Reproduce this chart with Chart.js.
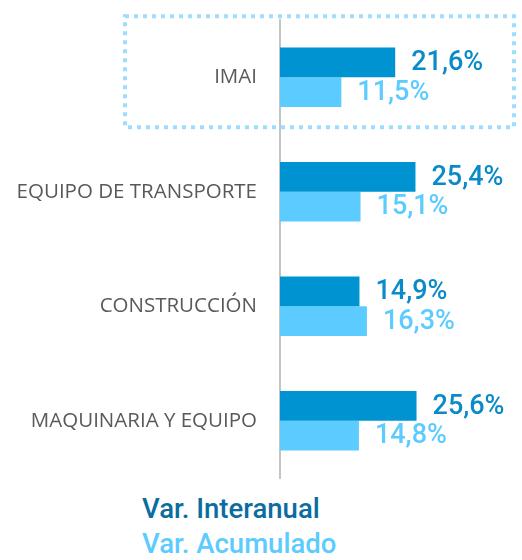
<!DOCTYPE html>
<html>
<head>
<meta charset="utf-8">
<script src="https://cdn.jsdelivr.net/npm/chart.js@4"></script>
<style>
  html, body { margin: 0; padding: 0; background: #ffffff; }
  #wrap { position: relative; width: 522px; height: 560px; }
  #c { position: absolute; left: 0; top: 0; }
  .leg { position: absolute; left: 142px; font-family: Roboto, "Liberation Sans", Arial, sans-serif; font-weight: 500; font-size: 27.5px; line-height: 30px; white-space: nowrap; }
</style>
</head>
<body>
<div id="wrap">
  <canvas id="c" width="522" height="490"></canvas>
  <div class="leg" id="leg1" style="top:494px;color:#0a6c9f;">Var. Interanual</div>
  <div class="leg" id="leg2" style="top:529px;color:#5ccbff;">Var. Acumulado</div>
</div>
<script>
const categories = ["IMAI", "EQUIPO DE TRANSPORTE", "CONSTRUCCIÓN", "MAQUINARIA Y EQUIPO"];
const interanual = [21.6, 25.4, 14.9, 25.6];
const acumulado = [11.5, 15.1, 16.3, 14.8];
const seriesNames = ["Var. Interanual", "Var. Acumulado"];

const darkBar = "#0093d1";
const lightBar = "#5ccbff";
const darkLabel = "#0a8ac9";
const lightLabel = "#5ccbff";

function fmt(v) { return v.toFixed(1).replace(".", ",") + "%"; }

const valueLabels = {
  id: "valueLabels",
  afterDatasetsDraw(chart) {
    const ctx = chart.ctx;
    ctx.save();
    ctx.font = '500 27px Roboto, "Liberation Sans", Arial, sans-serif';
    ctx.textBaseline = "middle";
    ctx.textAlign = "left";
    chart.data.datasets.forEach((ds, di) => {
      const meta = chart.getDatasetMeta(di);
      meta.data.forEach((bar, i) => {
        ctx.fillStyle = di === 0 ? darkLabel : lightLabel;
        ctx.fillText(fmt(ds.data[i]), bar.x + 16, bar.y + 1);
      });
    });
    ctx.restore();
  }
};

const highlightBox = {
  id: "highlightBox",
  afterDraw(chart) {
    const ctx = chart.ctx;
    const ys = chart.scales.y;
    const ca = chart.chartArea;
    const cy = ys.getPixelForValue(0);
    ctx.save();
    ctx.strokeStyle = "#9fdcff";
    ctx.lineWidth = 4;
    ctx.setLineDash([4, 5]);
    ctx.strokeRect(ca.left - 155, cy - 61, ca.right - 6 - (ca.left - 155), 111);
    ctx.restore();
  }
};

new Chart(document.getElementById("c"), {
  type: "bar",
  data: {
    labels: categories,
    datasets: [
      { label: seriesNames[0], data: interanual, backgroundColor: darkBar, categoryPercentage: 0.52, barPercentage: 1 },
      { label: seriesNames[1], data: acumulado, backgroundColor: lightBar, categoryPercentage: 0.52, barPercentage: 1 }
    ]
  },
  options: {
    indexAxis: "y",
    responsive: false,
    animation: false,
    layout: { padding: { top: 20, bottom: 12, left: 0, right: 2 } },
    plugins: { legend: { display: false }, tooltip: { enabled: false } },
    scales: {
      x: { display: false, min: 0, max: 45 },
      y: {
        grid: { display: false, drawTicks: false },
        border: { display: true, color: "#c4c4c4", width: 2 },
        ticks: {
          color: "#595959",
          padding: 23,
          font: { family: '"Open Sans", "Noto Sans", sans-serif', size: 20.5 }
        },
        afterFit(scale) {
          scale.width = 280;
          scale.paddingTop = 0;
          scale.paddingBottom = 0;
        }
      }
    }
  },
  plugins: [valueLabels, highlightBox]
});
</script>
</body>
</html>
